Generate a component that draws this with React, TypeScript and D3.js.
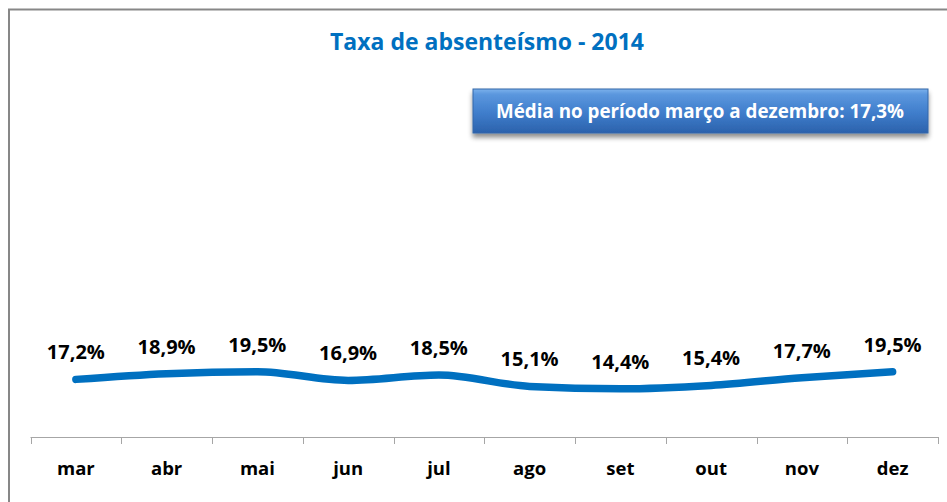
import React from "react";
import * as d3 from "d3";

const months = ["mar", "abr", "mai", "jun", "jul", "ago", "set", "out", "nov", "dez"];
const rates = [17.2, 18.9, 19.5, 16.9, 18.5, 15.1, 14.4, 15.4, 17.7, 19.5];
const rateLabels = ["17,2%", "18,9%", "19,5%", "16,9%", "18,5%", "15,1%", "14,4%", "15,4%", "17,7%", "19,5%"];
const titleText = "Taxa de absenteísmo - 2014";
const averageText = "Média no período março a dezembro: 17,3%";

const W = 947;
const H = 502;
const FONT = "'Open Sans', 'Noto Sans', sans-serif";

export default function App() {
  const x = d3.scaleBand<string>().domain(months).range([30.5, 938]).padding(0);
  const y = d3.scaleLinear().domain([0, 100]).range([437, 102]);

  const line = d3
    .line<number>()
    .x((_, i) => (x(months[i]) as number) + x.bandwidth() / 2)
    .y((d) => y(d))
    .curve(d3.curveMonotoneX);

  const tickXs = [...months.map((m) => x(m) as number), x.range()[1]];

  return (
    <svg
      width={W}
      height={H}
      style={{ position: "absolute", left: 0, top: 0, background: "#fff" }}
    >
      <defs>
        <linearGradient id="boxGrad" x1="0" y1="0" x2="0" y2="1">
          <stop offset="0" stopColor="#7CB2EC" />
          <stop offset="0.12" stopColor="#5B97DE" />
          <stop offset="0.55" stopColor="#3F7DCB" />
          <stop offset="1" stopColor="#2B62AC" />
        </linearGradient>
        <filter id="shadow" x="-5%" y="-20%" width="110%" height="160%">
          <feGaussianBlur in="SourceAlpha" stdDeviation="2.5" />
          <feOffset dx="0" dy="4" result="b" />
          <feComponentTransfer>
            <feFuncA type="linear" slope="0.45" />
          </feComponentTransfer>
          <feMerge>
            <feMergeNode />
            <feMergeNode in="SourceGraphic" />
          </feMerge>
        </filter>
      </defs>

      {/* frame */}
      <line x1={8} x2={W} y1={9.5} y2={9.5} stroke="#878787" strokeWidth={2} />
      <line x1={9} x2={9} y1={9} y2={H} stroke="#878787" strokeWidth={2} />

      {/* title */}
      <text
        x={487}
        y={50}
        textAnchor="middle"
        fill="#0070C0"
        fontFamily={FONT}
        fontWeight="bold"
        fontSize={23}
      >
        {titleText}
      </text>

      {/* average box */}
      <g filter="url(#shadow)">
        <rect x={473} y={89} width={455} height={44} fill="url(#boxGrad)" stroke="#3467A8" strokeWidth={1} />
      </g>
      <text
        x={700}
        y={117.5}
        textAnchor="middle"
        fill="#fff"
        fontFamily={FONT}
        fontWeight="bold"
        fontSize={18.8}
      >
        {averageText}
      </text>

      {/* x axis */}
      <line x1={x.range()[0]} x2={x.range()[1]} y1={437.5} y2={437.5} stroke="#A6A6A6" strokeWidth={1} />
      {tickXs.map((tx, i) => (
        <line key={i} x1={Math.round(tx) + 0.5} x2={Math.round(tx) + 0.5} y1={437} y2={444} stroke="#A6A6A6" strokeWidth={1} />
      ))}
      {months.map((m) => (
        <text
          key={m}
          x={(x(m) as number) + x.bandwidth() / 2}
          y={475}
          textAnchor="middle"
          fill="#000"
          fontFamily={FONT}
          fontWeight="bold"
          fontSize={18.5}
        >
          {m}
        </text>
      ))}

      {/* line */}
      <path
        d={line(rates) || ""}
        fill="none"
        stroke="#0070C0"
        strokeWidth={7.5}
        strokeLinecap="round"
        strokeLinejoin="round"
      />

      {/* data labels */}
      {rates.map((v, i) => (
        <text
          key={i}
          x={(x(months[i]) as number) + x.bandwidth() / 2}
          y={y(v) - 20}
          textAnchor="middle"
          fill="#000"
          fontFamily={FONT}
          fontWeight="bold"
          fontSize={20}
        >
          {rateLabels[i]}
        </text>
      ))}
    </svg>
  );
}
